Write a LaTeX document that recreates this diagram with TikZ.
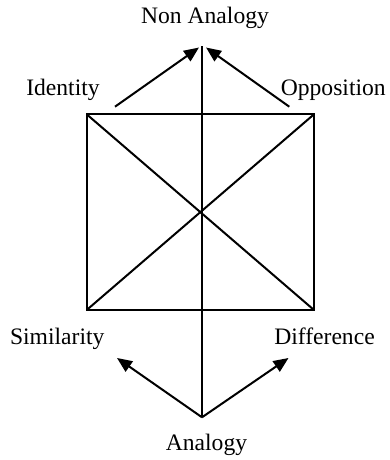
\documentclass[tikz,border=0pt]{standalone}
\usepackage{fontspec}
\setmainfont{Liberation Serif}
\usetikzlibrary{arrows.meta}
\begin{document}
\begin{tikzpicture}[x=1pt,y=-1pt,
  lbl/.style={anchor=base,inner sep=0pt,font=\fontsize{23.6}{28}\selectfont},
  ln/.style={line width=2pt},
  arr/.style={ln,-{Triangle[length=15pt,width=12.5pt]}}]
\useasboundingbox (0,0) rectangle (389,460);
% square corners
\coordinate (tl) at (86.7,114.3);
\coordinate (tr) at (314,114.3);
\coordinate (bl) at (86.7,310);
\coordinate (br) at (314,310);
% vertical axis
\coordinate (top) at (202,46.5);
\coordinate (apex) at (202,417.3);
% arrow endpoints
\coordinate (ia) at (115,106.7);
\coordinate (it) at (199,47.5);
\coordinate (oa) at (289.3,106.7);
\coordinate (ot) at (206,47.5);
\coordinate (st) at (117,358);
\coordinate (dt) at (288.5,358);
% labels
\node[lbl] (nonan) at (205,23.3) {Non Analogy};
\node[lbl] (ident) at (63,95) {Identity};
\node[lbl] (oppos) at (333.3,95) {Opposition};
\node[lbl] (simil) at (57.2,344) {Similarity};
\node[lbl] (diffe) at (324.5,344) {Difference};
\node[lbl] (analo) at (206.5,450) {Analogy};
% square and diagonals
\draw[ln,line join=miter] (tl) -- (tr) -- (br) -- (bl) -- cycle;
\draw[ln] (tl) -- (br);
\draw[ln] (tr) -- (bl);
\draw[ln] (top) -- (apex);
% arrows
\draw[arr] (ia) -- (it);
\draw[arr] (oa) -- (ot);
\draw[arr] (apex) -- (st);
\draw[arr] (apex) -- (dt);
\end{tikzpicture}
\end{document}
